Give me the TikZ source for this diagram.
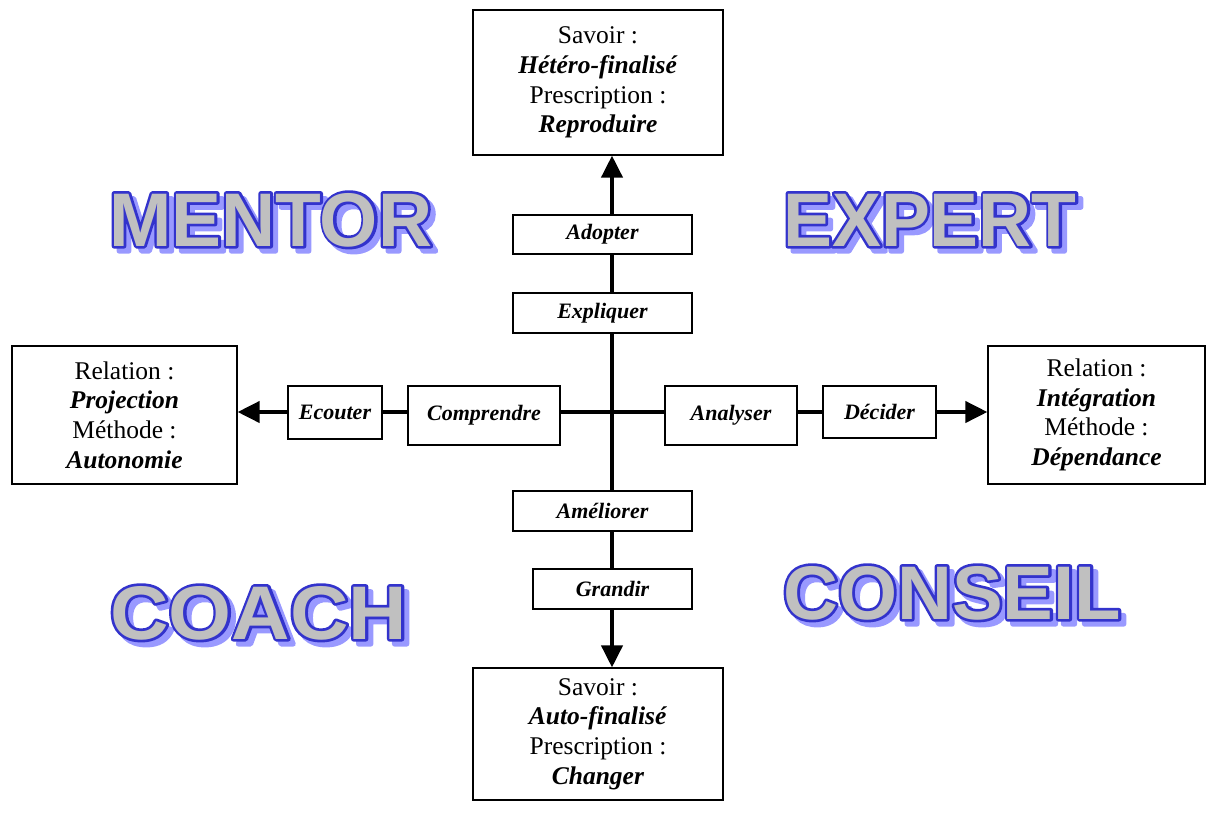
\documentclass[tikz,border=0pt]{standalone}
\usepackage{fontspec}
\setmainfont{Liberation Serif}
\newfontfamily\wordfont{Liberation Sans Bold}
\newfontfamily\wordout{Liberation Sans Bold}[FakeBold=7]
\usetikzlibrary{arrows.meta}
\definecolor{wordfill}{HTML}{C0C0C0}
\definecolor{wordline}{HTML}{3333CC}
\definecolor{wordshadow}{HTML}{9999FF}
\pgfdeclarelayer{background}
\pgfsetlayers{background,main}
\tikzset{
  infobox/.style={draw, line width=1.2pt, fill=white, inner sep=0pt, align=center,
    font=\fontsize{25.5}{29.7}\selectfont},
  lblbox/.style={draw, line width=1.2pt, fill=white, inner sep=0pt,
    font=\fontsize{22}{26}\selectfont\bfseries\itshape},
  axisarrow/.style={line width=4pt, -{Triangle[length=22pt,width=21pt]}},
  wordtxt/.style={anchor=base west, inner sep=0pt, line join=round},
}
\newcommand\bigword[5]{% name, x, baseline y, xscale, text
  \node[wordtxt, text=wordshadow, font=\wordout\fontsize{76}{80}\selectfont]
    at (#2+5,#3+5) {\scalebox{#4}[1]{#5}};
  \node[wordtxt, text=wordline, font=\wordout\fontsize{76}{80}\selectfont]
    at (#2,#3) {\scalebox{#4}[1]{#5}};
  \node[wordtxt, text=wordfill, font=\wordfont\fontsize{76}{80}\selectfont]
    (#1) at (#2,#3) {\scalebox{#4}[1]{#5}};
}
\begin{document}
\begin{tikzpicture}[x=1pt,y=-1pt]
\useasboundingbox (0,0) rectangle (1216,812);

% information boxes
\node[infobox, minimum width=250pt, minimum height=145pt] (top) at (598,82.5)
  {Savoir :\\ \textbf{\textit{Hétéro-finalisé}}\\ Prescription :\\ \textbf{\textit{Reproduire}}};
\node[infobox, minimum width=250pt, minimum height=132pt] (bottom) at (598,734)
  {Savoir :\\ \textbf{\textit{Auto-finalisé}}\\ Prescription :\\ \textbf{\textit{Changer}}};
\node[infobox, minimum width=225pt, minimum height=138pt] (left) at (124.5,415)
  {Relation :\\ \textbf{\textit{Projection}}\\ Méthode :\\ \textbf{\textit{Autonomie}}};
\node[infobox, minimum width=217pt, minimum height=138pt] (right) at (1096.5,415)
  {Relation :\\ \textbf{\textit{Intégration}}\\ Méthode :\\ \textbf{\textit{Dépendance}}};

% labels on the axes
\node[lblbox, minimum width=179pt, minimum height=39pt] (adopter) at (602.5,234.5) {Adopter};
\node[lblbox, minimum width=179pt, minimum height=40pt] (expliquer) at (602.5,313) {Expliquer};
\node[lblbox, minimum width=94pt, minimum height=53pt] (ecouter) at (335,412.5) {Ecouter};
\node[lblbox, minimum width=152pt, minimum height=59pt] (comprendre) at (484,415.5) {Comprendre};
\node[lblbox, minimum width=132pt, minimum height=59pt] (analyser) at (731,415.5) {Analyser};
\node[lblbox, minimum width=113pt, minimum height=52pt] (decider) at (879.5,412) {Décider};
\node[lblbox, minimum width=179pt, minimum height=40pt] (ameliorer) at (602.5,511) {Améliorer};
\node[lblbox, minimum width=159pt, minimum height=40pt] (grandir) at (612.5,589) {Grandir};

% axes
\coordinate (ctr) at (612,412);
\begin{pgfonlayer}{background}
  \draw[axisarrow] (ctr) -- (ctr |- top.south);
  \draw[axisarrow] (ctr) -- (ctr |- bottom.north);
  \draw[axisarrow] (ctr) -- (ctr -| left.east);
  \draw[axisarrow] (ctr) -- (ctr -| right.west);
\end{pgfonlayer}

% big words
\bigword{mentor}{109}{246}{0.985}{MENTOR}
\bigword{expert}{783}{246}{0.965}{EXPERT}
\bigword{coach}{110}{639}{1.065}{COACH}
\bigword{conseil}{783}{619}{1.0}{CONSEIL}
\end{tikzpicture}
\end{document}
